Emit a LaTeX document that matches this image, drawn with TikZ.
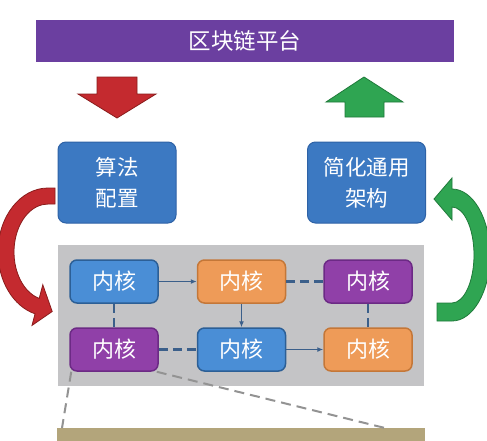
\documentclass[tikz,border=0pt]{standalone}
\usepackage{fontspec}
\setmainfont{Noto Sans CJK SC}
\usetikzlibrary{arrows.meta}
\definecolor{barpurple}{HTML}{6B3FA0}
\definecolor{mainblue}{HTML}{3C79C2}
\definecolor{mainblueb}{HTML}{2E62A6}
\definecolor{kbluef}{HTML}{4A8ED6}
\definecolor{kblueb}{HTML}{2C5F96}
\definecolor{korangef}{HTML}{EE9B58}
\definecolor{korangeb}{HTML}{C47738}
\definecolor{kpurplef}{HTML}{9040A8}
\definecolor{kpurpleb}{HTML}{6C2A85}
\definecolor{panelgray}{HTML}{C4C4C6}
\definecolor{khaki}{HTML}{B3A57B}
\definecolor{arrred}{HTML}{C42A2F}
\definecolor{arrredb}{HTML}{8A1C1C}
\definecolor{arrgreen}{HTML}{2FA552}
\definecolor{arrgreenb}{HTML}{1F7A3A}
\definecolor{conn}{HTML}{3B5F8A}
\begin{document}
\begin{tikzpicture}[x=1pt,y=-1pt,
  bigbox/.style={rounded corners=8pt, fill=mainblue, draw=mainblueb, line width=1pt,
    text=white, font=\fontsize{21.5}{31}\selectfont, align=center, inner sep=0pt,
    minimum width=118pt, minimum height=81pt},
  kernel/.style={rounded corners=7pt, line width=1.5pt, text=white,
    font=\fontsize{22}{25}\selectfont, minimum width=88pt, minimum height=43pt, inner sep=0pt},
  bluek/.style={kernel, fill=kbluef, draw=kblueb},
  orangek/.style={kernel, fill=korangef, draw=korangeb},
  purplek/.style={kernel, fill=kpurplef, draw=kpurpleb},
  solidarrow/.style={draw=conn, line width=1.2pt, -{Latex[length=6pt,width=5pt]}},
  dashconn/.style={draw=conn, line width=2.5pt, dash pattern=on 9pt off 5pt},
  zoomline/.style={draw=gray!85, line width=2pt, dash pattern=on 10pt off 6pt},
  redarrow/.style={fill=arrred, draw=arrredb, line width=0.8pt, line join=miter},
  greenarrow/.style={fill=arrgreen, draw=arrgreenb, line width=0.8pt, line join=miter}
]
\useasboundingbox (0,0) rectangle (487,440);
\fill[white] (0,0) rectangle (487,440);

% title bar
\node[fill=barpurple, minimum width=418pt, minimum height=42pt, inner sep=0pt,
  text=white, font=\fontsize{22.5}{26}\selectfont] (bar) at (245,41) {区块链平台};

% straight arrows
\fill[redarrow] (97,77) -- (137,77) -- (137,94) -- (156,94) -- (117,118) -- (78,94) -- (97,94) -- cycle;
\fill[greenarrow] (345,117) -- (384,117) -- (384,102) -- (403,102) -- (364,77) -- (326,102) -- (345,102) -- cycle;

% main boxes
\node[bigbox] (algo) at (117,182.5) {算法\\配置};
\node[bigbox] (simp) at (366.5,182.5) {简化通用\\架构};

% curved arrows
\filldraw[redarrow] (55,188) -- (48,188) arc[start angle=-90, end angle=-255, x radius=50, y radius=64]
  -- (32,325.4) -- (52.2,311.5) -- (42.8,284.8) -- (39.2,298.4)
  arc[start angle=-255, end angle=-90, x radius=34, y radius=48] -- (55,204) -- cycle;
\filldraw[greenarrow] (437,321) -- (452,321) arc[start angle=90, end angle=-90, x radius=38, y radius=66]
  -- (452,178) -- (434,199) -- (452,220) -- (452,207)
  arc[start angle=-90, end angle=90, x radius=22, y radius=48] -- (437,303) -- cycle;

% panel
\node[fill=panelgray, minimum width=366pt, minimum height=141pt, inner sep=0pt] (panel) at (241,315.5) {};

% kernels
\node[bluek]   (k1) at (114,281.5) {内核};
\node[orangek] (k2) at (241.5,281.5) {内核};
\node[purplek] (k3) at (368,281.5) {内核};
\node[purplek] (k4) at (114,349.5) {内核};
\node[bluek]   (k5) at (241.5,349.5) {内核};
\node[orangek] (k6) at (368,349.5) {内核};

\draw[solidarrow] (k1) -- (k2);
\draw[solidarrow] (k2) -- (k5);
\draw[solidarrow] (k5) -- (k6);
\draw[dashconn] (k2) -- (k3);
\draw[dashconn] (k1) -- (k4);
\draw[dashconn] (k4) -- (k5);
\draw[dashconn] (k3) -- (k6);

% base layer
\node[fill=khaki, minimum width=368pt, minimum height=20pt, inner sep=0pt, anchor=north west] (base) at (57,428) {};
\coordinate (zl) at (62,428);
\coordinate (zr) at (385,428);
\draw[zoomline] ([xshift=2pt]k4.south west) -- (zl);
\draw[zoomline] ([xshift=-2pt]k4.south east) -- (zr);
\end{tikzpicture}
\end{document}
